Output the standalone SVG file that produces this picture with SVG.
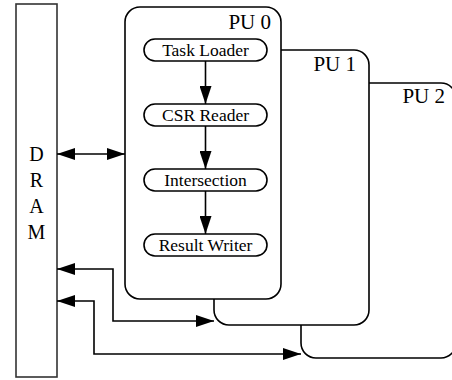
<svg xmlns="http://www.w3.org/2000/svg" width="452" height="380" viewBox="0 0 452 380">
  <defs>
    <marker id="ah" viewBox="0 0 18 12" refX="18" refY="6" markerWidth="18" markerHeight="12" markerUnits="userSpaceOnUse" orient="auto-start-reverse">
      <path d="M0,0 L18,6 L0,12 Z" fill="#000"/>
    </marker>
  </defs>
  <style>
    text { font-family: "Liberation Serif", "Times New Roman", serif; fill: #000; }
    .pu { fill: #fff; stroke: #000; stroke-width: 1.6; }
    .stage { fill: #fff; stroke: #000; stroke-width: 1.6; }
    .dram { fill: #fff; stroke: #333; stroke-width: 1.6; }
    .lbl { font-size: 20px; }
    .pul { font-size: 21px; text-anchor: end; }
    .st { font-size: 17.5px; text-anchor: middle; }
    .wire { fill: none; stroke: #000; stroke-width: 1.6; }
  </style>

  <!-- DRAM -->
  <g id="dram">
    <rect class="dram" x="16" y="4" width="41" height="373"/>
    <text class="lbl" x="36.5" y="161" text-anchor="middle">D</text>
    <text class="lbl" x="36.5" y="187" text-anchor="middle">R</text>
    <text class="lbl" x="36.5" y="213" text-anchor="middle">A</text>
    <text class="lbl" x="36.5" y="239" text-anchor="middle">M</text>
  </g>

  <!-- processing units, back to front -->
  <g id="pu2">
    <rect class="pu" x="301" y="83" width="155" height="275" rx="15"/>
    <text class="pul" x="445" y="103">PU 2</text>
  </g>
  <g id="pu1">
    <rect class="pu" x="214" y="50" width="155" height="275" rx="15"/>
    <text class="pul" x="356" y="71">PU 1</text>
  </g>
  <g id="pu0">
    <rect class="pu" x="125" y="7" width="156" height="292" rx="15"/>
    <text class="pul" x="271" y="29">PU 0</text>
  </g>

  <!-- pipeline stages inside PU 0 -->
  <g id="task-loader">
    <rect class="stage" x="144" y="39" width="123" height="22" rx="11"/>
    <text class="st" x="205.5" y="56">Task Loader</text>
  </g>
  <g id="csr-reader">
    <rect class="stage" x="144" y="104" width="123" height="22" rx="11"/>
    <text class="st" x="205.5" y="121">CSR Reader</text>
  </g>
  <g id="intersection">
    <rect class="stage" x="144" y="169" width="123" height="22" rx="11"/>
    <text class="st" x="205.5" y="186">Intersection</text>
  </g>
  <g id="result-writer">
    <rect class="stage" x="144" y="234" width="123" height="22" rx="11"/>
    <text class="st" x="205.5" y="251">Result Writer</text>
  </g>

  <!-- connectors -->
  <g id="connectors">
    <line class="wire" x1="205.5" y1="61" x2="205.5" y2="104" marker-end="url(#ah)"/>
    <line class="wire" x1="205.5" y1="126" x2="205.5" y2="169" marker-end="url(#ah)"/>
    <line class="wire" x1="205.5" y1="191" x2="205.5" y2="234" marker-end="url(#ah)"/>
    <line class="wire" x1="57" y1="154" x2="125" y2="154" marker-start="url(#ah)" marker-end="url(#ah)"/>
    <polyline class="wire" points="57,269 113,269 113,321 214,321" marker-start="url(#ah)" marker-end="url(#ah)"/>
    <polyline class="wire" points="57,301 94,301 94,354 301,354" marker-start="url(#ah)" marker-end="url(#ah)"/>
  </g>
</svg>
